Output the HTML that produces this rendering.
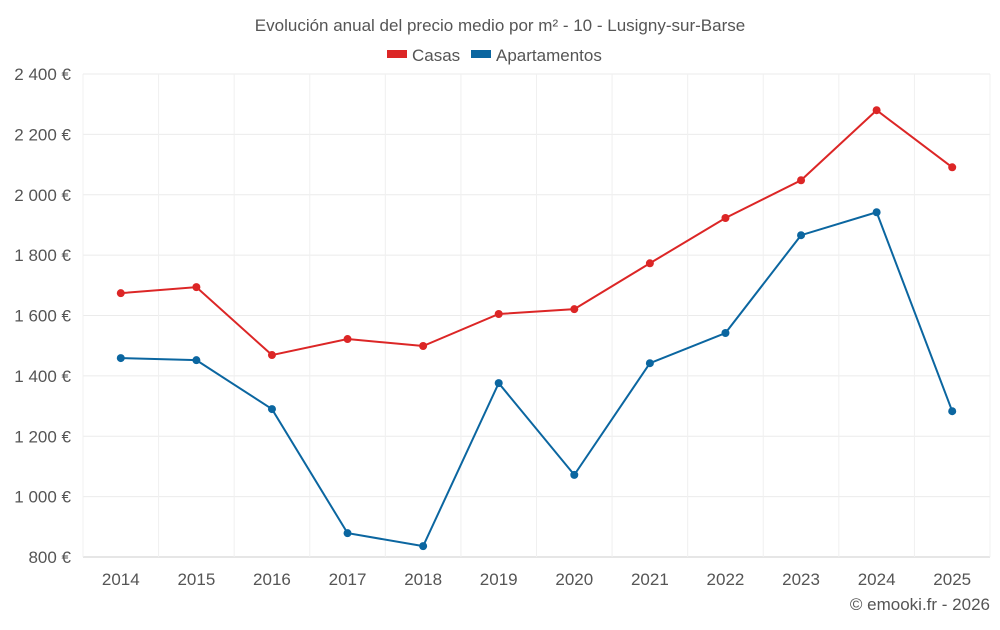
<!DOCTYPE html>
<html><head><meta charset="utf-8"><style>
body{margin:0;background:#fff;font-family:"Liberation Sans",Roboto,sans-serif;}
svg text{font-family:"Liberation Sans",sans-serif;}
</style></head><body>
<svg id="chart" width="1000" height="625" viewBox="0 0 1000 625">
<text x="500" y="31" text-anchor="middle" font-size="17" fill="#555">Evolución anual del precio medio por m² - 10 - Lusigny-sur-Barse</text>
<g>
<g><rect x="387" y="50" width="20" height="8" fill="#dc2626"/><text x="412" y="61" font-size="17" fill="#555">Casas</text></g>
<g><rect x="471" y="50" width="20" height="8" fill="#0b66a0"/><text x="496" y="61" font-size="17" fill="#555">Apartamentos</text></g>
</g>
<g id="grid"></g>
<g id="axes"></g>
<g id="series"></g>
<text x="990" y="610" text-anchor="end" font-size="17" fill="#555">© emooki.fr - 2026</text>
</svg>
<script>
const years=[2014,2015,2016,2017,2018,2019,2020,2021,2022,2023,2024,2025];
const casas=[1674,1694,1469,1522,1499,1605,1621,1773,1923,2048,2280,2091];
const apartamentos=[1459,1452,1290,879,836,1376,1072,1442,1542,1866,1942,1283];
const yTicks=[800,1000,1200,1400,1600,1800,2000,2200,2400];
const yTickLabels=["800 €","1 000 €","1 200 €","1 400 €","1 600 €","1 800 €","2 000 €","2 200 €","2 400 €"];

const NS="http://www.w3.org/2000/svg";
const L=83,R=990,T=74,B=557,yMin=800,yMax=2400;
const step=(R-L)/years.length;
const x=i=>L+step*(i+0.5);
const y=v=>B-(v-yMin)/(yMax-yMin)*(B-T);
function mk(tag,attrs,parent){const e=document.createElementNS(NS,tag);for(const k in attrs)e.setAttribute(k,attrs[k]);parent.appendChild(e);return e;}
const grid=document.getElementById('grid'),axes=document.getElementById('axes'),series=document.getElementById('series');
yTicks.forEach((t,i)=>{
  const ln=mk('line',{x1:L,x2:R,y1:y(t),y2:y(t),stroke:i===0?'#ccc':'#ebebeb','stroke-width':1},grid);
  
  
  const tx=mk('text',{x:71,y:y(t)+6,'text-anchor':'end','font-size':17,fill:'#555'},axes);
  tx.textContent=yTickLabels[i];
  
  
});
for(let i=0;i<=years.length;i++){
  const ln=mk('line',{x1:L+step*i,x2:L+step*i,y1:T,y2:B,stroke:'#f0f0f0','stroke-width':1},grid);
  
  
}
years.forEach((yr,i)=>{
  const tx=mk('text',{x:x(i),y:585,'text-anchor':'middle','font-size':17,fill:'#555'},axes);
  tx.textContent=yr;
  
  
});
function draw(vals,color,name){
  const p=mk('polyline',{points:vals.map((v,i)=>x(i)+','+y(v)).join(' '),fill:'none',stroke:color,'stroke-width':2},series);
  
  
  vals.forEach((v,i)=>{
    const c=mk('circle',{cx:x(i),cy:y(v),r:4,fill:color},series);
    
    
  });
}
draw(casas,'#dc2626','casas');
draw(apartamentos,'#0b66a0','apartamentos');
</script>
</body></html>
